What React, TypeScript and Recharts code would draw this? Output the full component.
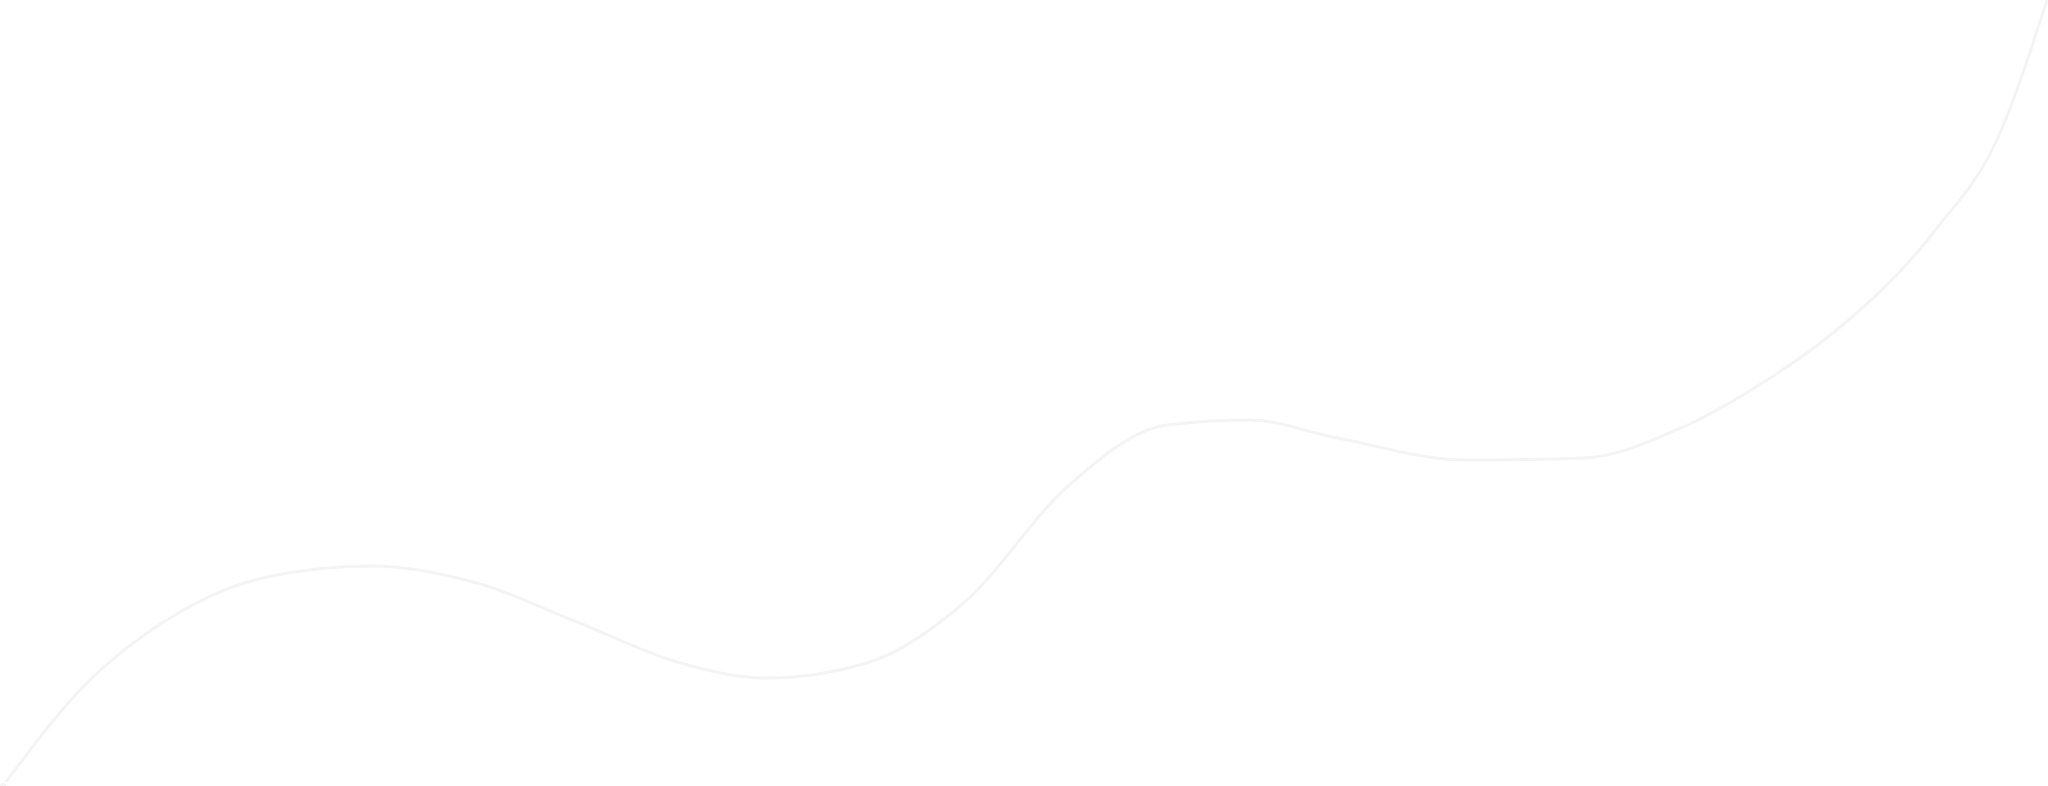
import { Line, LineChart, XAxis, YAxis } from "recharts";

// horizontal position of each sampled point along the curve
const positions = [
  3, 83, 170, 267, 370, 477, 577, 677, 767, 867,
  967, 1067, 1167, 1250, 1333, 1467, 1583,
  1683, 1767, 1833, 1933, 2000, 2047,
];

// height of the curve above the bottom edge at each position
const heights = [
  0, 99, 168, 209, 220, 203, 164, 124, 108, 123,
  186, 299, 361, 366, 349, 326, 328,
  359, 406, 453, 553, 653, 786,
];

const data = positions.map((x, i) => ({ x, value: heights[i] }));

export default function App() {
  return (
    <div style={{ position: "absolute", left: 0, top: 0, background: "#ffffff" }}>
      <LineChart width={2048} height={786} data={data} margin={{ top: 0, right: 0, left: 0, bottom: 0 }}>
        <XAxis type="number" dataKey="x" domain={[0, 2048]} hide />
        <YAxis type="number" domain={[0, 786]} hide />
        <Line
          type="monotone"
          dataKey="value"
          stroke="#f4f4f4"
          strokeWidth={3}
          dot={false}
          isAnimationActive={false}
        />
      </LineChart>
    </div>
  );
}
